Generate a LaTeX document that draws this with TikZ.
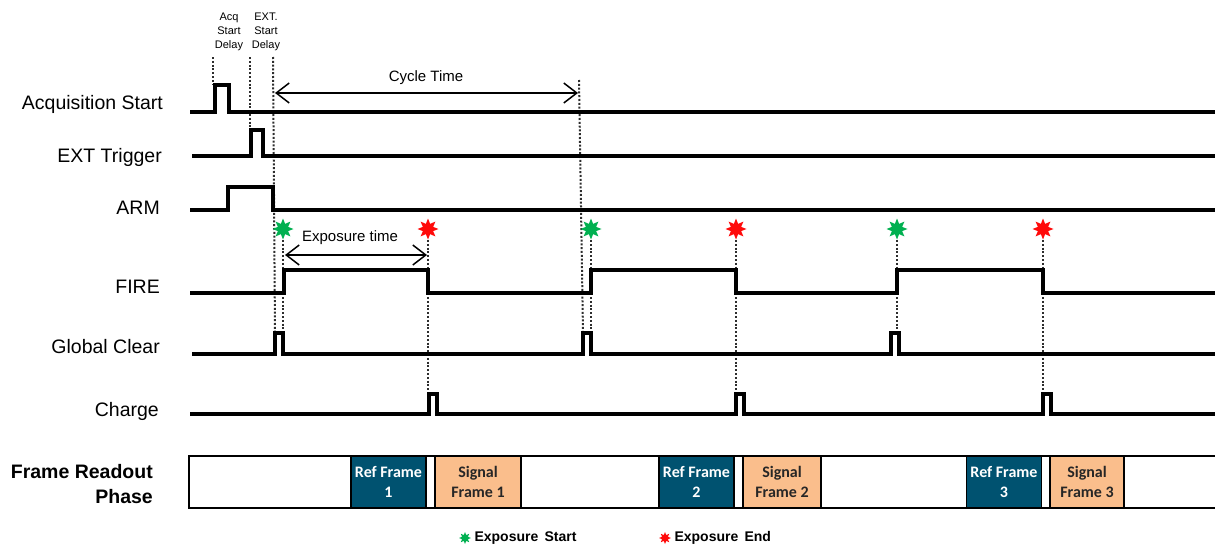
\documentclass[tikz,border=0pt]{standalone}
\usepackage{fontspec}
\setmainfont{Liberation Sans}
\newfontfamily\calfont{Carlito}
\usetikzlibrary{arrows.meta,shapes.geometric}

\definecolor{refblue}{RGB}{0,82,112}
\definecolor{sigpeach}{RGB}{250,190,140}
\definecolor{stargreen}{RGB}{0,176,80}
\definecolor{starred}{RGB}{255,10,10}

\tikzset{
  wave/.style={line width=3.2pt, black, line join=miter},
  guide/.style={line width=2pt, gray!35!black, dash pattern=on 2pt off 1.8pt},
  span/.style={line width=1.5pt, {Straight Barb[length=13pt,width=20pt]}-{Straight Barb[length=13pt,width=20pt]}},
  siglabel/.style={anchor=east, inner sep=0pt, font=\fontsize{19.5}{21}\selectfont},
  toplabel/.style={align=center, font=\fontsize{11}{14}\selectfont},
  spanlabel/.style={font=\fontsize{15}{17}\selectfont},
  estar/.style={star, star points=8, star point ratio=1.9, minimum size=21pt, inner sep=0pt, draw=none},
  refbox/.style={draw=black, line width=1.8pt, fill=refblue, text=white, minimum width=75pt, minimum height=51pt,
    align=center, font=\calfont\bfseries\fontsize{16}{20}\selectfont},
  sigbox/.style={refbox, fill=sigpeach, text=black!85}
}

\begin{document}
\begin{tikzpicture}[x=1pt, y=-1pt]
    \useasboundingbox (0,0) rectangle (1215,546);

    % signal names
    \node[siglabel] (lacq) at (163,104) {Acquisition Start};
    \node[siglabel] (lext) at (162,157) {EXT Trigger};
    \node[siglabel] (larm) at (160,208) {ARM};
    \node[siglabel] (lfire) at (160,287) {FIRE};
    \node[siglabel] (lgc) at (160,347) {Global Clear};
    \node[siglabel] (lchg) at (159,411) {Charge};

    % delay labels
    \node[toplabel] (acqdelay) at (229,32) {Acq\\Start\\Delay};
    \node[toplabel] (extdelay) at (266,32) {EXT.\\Start\\Delay};

    % guide lines
    \draw[guide] (213,57) -- (213,85);
    \draw[guide] (250,57) -- (250,130);
    \draw[guide] (273,57) -- (275,333);
    \draw[guide] (283,240) -- (283,333);
    \draw[guide] (428,240) -- (428,394);
    \draw[guide] (579,80) -- (583,333);
    \draw[guide] (591,240) -- (591,333);
    \draw[guide] (736,240) -- (736,394);
    \draw[guide] (897,240) -- (897,333);
    \draw[guide] (1043,240) -- (1043,394);

    % waveforms
    \draw[wave] (190,112) -- (215,112) -- (215,85) -- (229,85) -- (229,112) -- (1215,112);
    \draw[wave] (192,156) -- (251,156) -- (251,130) -- (263,130) -- (263,156) -- (1215,156);
    \draw[wave] (190,210) -- (228,210) -- (228,187) -- (273,187) -- (273,210) -- (1215,210);
    \draw[wave] (190,293) -- (284,293) -- (284,270) -- (428,270) -- (428,293)
        -- (591,293) -- (591,270) -- (736,270) -- (736,293)
        -- (897,293) -- (897,270) -- (1043,270) -- (1043,293) -- (1215,293);
    \draw[wave] (192,354) -- (275,354) -- (275,333) -- (283,333) -- (283,354)
        -- (583,354) -- (583,333) -- (591,333) -- (591,354)
        -- (891,354) -- (891,333) -- (899,333) -- (899,354) -- (1215,354);
    \draw[wave] (190,414) -- (429,414) -- (429,394) -- (437,394) -- (437,414)
        -- (736,414) -- (736,394) -- (744,394) -- (744,414)
        -- (1043,414) -- (1043,394) -- (1051,394) -- (1051,414) -- (1215,414);

    % exposure markers
    \foreach \n/\xs/\xe in {1/283/428, 2/591/736, 3/897/1043} {
        \node[estar, fill=stargreen] (es\n) at (\xs,229) {};
        \node[estar, fill=starred] (ee\n) at (\xe,229) {};
    }

    % time spans
    \coordinate (ctl) at (275,93);
    \coordinate (ctr) at (578,93);
    \draw[span] (ctl) -- (ctr);
    \node[spanlabel] (cycle) at (426,78) {Cycle Time};
    \coordinate (etl) at (285,255);
    \coordinate (etr) at (427,255);
    \draw[span] (etl) -- (etr);
    \node[spanlabel] (expo) at (350,238) {Exposure time};

    % frame readout row
    \node[anchor=east, align=right, inner sep=0pt, font=\bfseries\fontsize{19.5}{25}\selectfont] (lframe) at (153,484) {Frame Readout\\Phase};
    \draw[line width=1.8pt] (1216,456) -- (189,456) -- (189,508) -- (1216,508);
    \node[refbox] (ref1) at (388.5,482) {Ref Frame\\1};
    \node[sigbox, minimum width=86pt] (sig1) at (478,482) {Signal\\Frame 1};
    \node[refbox] (ref2) at (696.5,482) {Ref Frame\\2};
    \node[sigbox, minimum width=78pt] (sig2) at (782,482) {Signal\\Frame 2};
    \node[refbox] (ref3) at (1004,482) {Ref Frame\\3};
    \node[sigbox, minimum width=74pt] (sig3) at (1087,482) {Signal\\Frame 3};

    % legend
    \node[estar, fill=stargreen, minimum size=12pt] (kstart) at (465,538) {};
    \node[anchor=west, font=\bfseries\fontsize{14}{15}\selectfont] (tstart) at (471,538) {Exposure\, Start};
    \node[estar, fill=starred, minimum size=12pt] (kend) at (665,538) {};
    \node[anchor=west, font=\bfseries\fontsize{14}{15}\selectfont] (tend) at (671,538) {Exposure\, End};
\end{tikzpicture}
\end{document}
